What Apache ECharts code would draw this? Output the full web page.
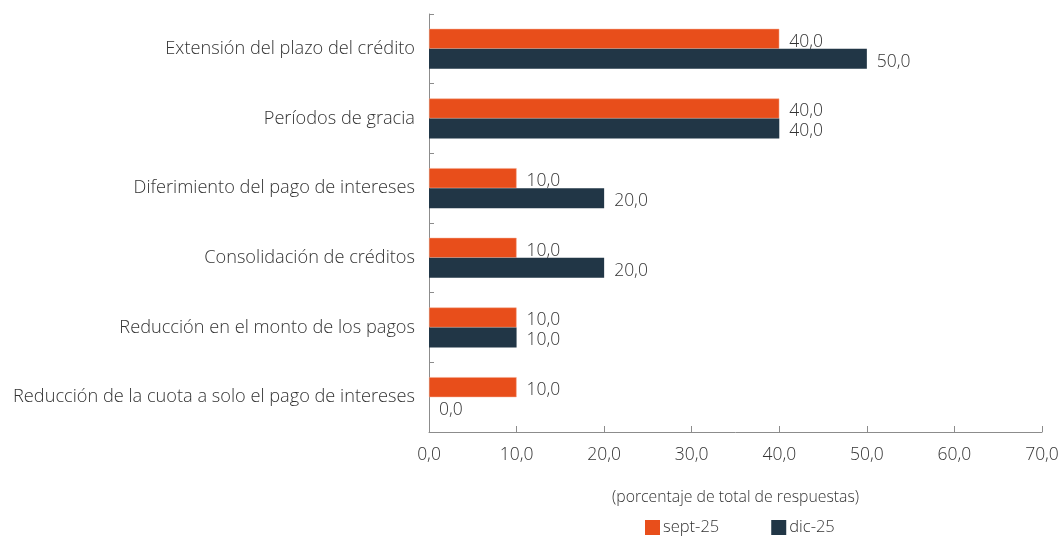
<!DOCTYPE html>
<html><head><meta charset="utf-8">
<script src="https://cdn.jsdelivr.net/npm/echarts@6/dist/echarts.min.js"></script>
<style>html,body{margin:0;padding:0;background:#fff}#c{width:1063px;height:537px}</style>
</head><body><div id="c"></div>
<script>
const categories = [
  "Extensión del plazo del crédito",
  "Períodos de gracia",
  "Diferimiento del pago de intereses",
  "Consolidación de créditos",
  "Reducción en el monto de los pagos",
  "Reducción de la cuota a solo el pago de intereses"
];
const sept25 = [40, 40, 10, 10, 10, 10];
const dic25 = [50, 40, 20, 20, 10, 0];
const seriesNames = ["sept-25", "dic-25"];
const axisTitle = "(porcentaje de total de respuestas)";

const fmt = v => Number(v).toFixed(1).replace('.', ',');
const FONT = "'Open Sans', sans-serif";
const W = 300;
const chart = echarts.init(document.getElementById('c'), null, {renderer: 'canvas'});
const lbl = {show: true, position: 'right', distance: 10, offset: [0, 3], color: '#333', fontSize: 17.5, fontWeight: W, fontFamily: FONT, formatter: p => fmt(p.value)};
chart.setOption({
  animation: false,
  textStyle: {fontFamily: FONT},
  grid: {left: 429, right: 21, top: 14, bottom: 105, containLabel: false},
  legend: {
    data: seriesNames, bottom: 1, left: 645, padding: 0, itemWidth: 15, itemHeight: 15, itemGap: 52,
    icon: 'rect', itemStyle: {borderWidth: 0},
    textStyle: {fontSize: 16.5, color: '#333', fontWeight: W, fontFamily: FONT, padding: [0,0,0,-2]}
  },
  xAxis: {
    type: 'value', min: 0, max: 70, interval: 10,
    name: axisTitle, nameLocation: 'middle', nameGap: 57,
    nameTextStyle: {fontSize: 15.8, color: '#333', fontWeight: W, fontFamily: FONT},
    axisLine: {show: true, lineStyle: {color: '#8c8c8c'}},
    axisTick: {show: true, inside: true, length: 6, lineStyle: {color: '#8c8c8c'}},
    axisLabel: {fontSize: 17.5, color: '#333', fontWeight: W, margin: 14, formatter: v => fmt(v), fontFamily: FONT},
    splitLine: {show: false}
  },
  yAxis: {
    type: 'category', data: categories, inverse: true,
    axisLine: {show: true, lineStyle: {color: '#8c8c8c'}},
    axisTick: {show: true, inside: true, length: 5, lineStyle: {color: '#8c8c8c'}},
    axisLabel: {fontSize: 18.2, color: '#333', fontWeight: W, margin: 14, fontFamily: FONT}
  },
  series: [
    {name: seriesNames[0], type: 'bar', data: sept25, barWidth: 20, barGap: '0%',
     itemStyle: {color: '#E84E1B', borderColor: '#F5A98C', borderWidth: 0.5}, label: lbl},
    {name: seriesNames[1], type: 'bar', data: dic25, barWidth: 20, barGap: '0%',
     itemStyle: {color: '#213646'}, label: lbl}
  ]
});
</script></body></html>
